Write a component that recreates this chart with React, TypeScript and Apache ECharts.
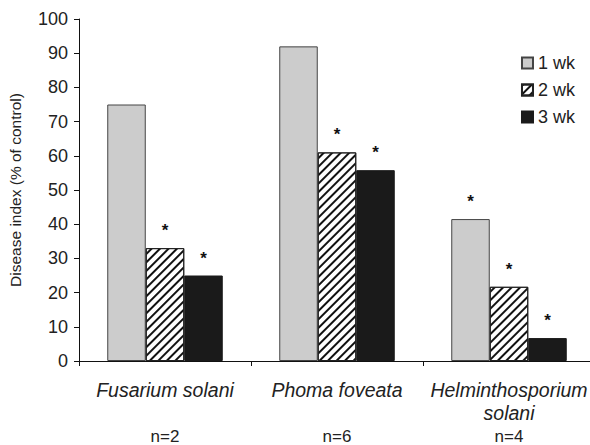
import React, { useEffect, useRef } from "react";
import * as echarts from "echarts";

const categories = ["Fusarium solani", "Phoma foveata", "Helminthosporium solani"];
const sampleSizes = ["n=2", "n=6", "n=4"];
const seriesNames = ["1 wk", "2 wk", "3 wk"];
const week1 = [75, 92, 41.5];
const week2 = [33, 61, 21.7];
const week3 = [25, 55.8, 6.7];
const sig1 = [false, false, true];
const sig2 = [true, true, true];
const sig3 = [true, true, true];
const yTicks = [0, 10, 20, 30, 40, 50, 60, 70, 80, 90, 100];

const FONT = "Liberation Sans, Arial, sans-serif";

function mkData(vals: number[], sig: boolean[]) {
  return vals.map((v, i) => ({
    value: v,
    label: {
      show: sig[i],
      position: "top",
      formatter: "*",
      distance: 9,
      fontSize: 17,
      fontWeight: "bold",
      color: "#111",
      fontFamily: FONT,
    },
  }));
}

export default function App() {
  const ref = useRef<HTMLDivElement>(null);
  useEffect(() => {
    if (!ref.current) return;
    const chart = echarts.init(ref.current, null, { renderer: "svg" });
    const catLabels = categories.map((c, i) => {
      const parts = c === "Helminthosporium solani" ? ["Helminthosporium", "solani"] : [c];
      const lines = parts.map((p) => `{i|${p}}`);
      while (lines.length < 2) lines.push("{i| }");
      return lines.join("\n") + `\n{n|${sampleSizes[i]}}`;
    });
    chart.setOption({
      animation: false,
      textStyle: { fontFamily: FONT },
      grid: { left: 79, right: -5, top: 19, bottom: 84, containLabel: false, outerBoundsMode: "none" },
      legend: {
        orient: "vertical",
        right: 10,
        top: 49,
        itemWidth: 11,
        itemHeight: 11,
        itemGap: 9,
        icon: "rect",
        textStyle: { fontSize: 18, color: "#222", fontFamily: FONT },
        data: seriesNames,
      },
      xAxis: {
        type: "category",
        data: catLabels,
        axisLine: { lineStyle: { color: "#111", width: 1 } },
        axisTick: { show: true, length: 5, lineStyle: { color: "#111" } },
        axisLabel: {
          margin: 17,
          interval: 0,
          color: "#222",
          rich: {
            i: { fontStyle: "italic", fontSize: 19.5, lineHeight: 23.5, fontFamily: FONT, color: "#222" },
            n: { fontSize: 17, lineHeight: 23.5, fontFamily: FONT, color: "#222" },
          },
        },
      },
      yAxis: {
        type: "value",
        min: 0,
        max: 100,
        interval: 10,
        name: "Disease index (% of control)",
        nameLocation: "middle",
        nameGap: 56,
        nameTextStyle: { fontSize: 15.5, color: "#222", fontFamily: FONT },
        axisLine: { show: true, lineStyle: { color: "#111", width: 1 } },
        axisTick: { show: true, length: 5, lineStyle: { color: "#111" } },
        splitLine: { show: false },
        axisLabel: {
          margin: 11,
          fontSize: 18,
          color: "#222",
          fontFamily: FONT,
          formatter: (v: number) => (yTicks.includes(v) ? String(v) : ""),
        },
      },
      series: [
        {
          name: seriesNames[0],
          type: "bar",
          data: mkData(week1, sig1),
          barWidth: 38.5,
          barGap: "0%",
          itemStyle: { color: "#cccccc", borderColor: "#444", borderWidth: 1 },
        },
        {
          name: seriesNames[1],
          type: "bar",
          data: mkData(week2, sig2),
          barWidth: 38.5,
          barGap: "0%",
          itemStyle: {
            color: "#ffffff",
            borderColor: "#222",
            borderWidth: 1,
            decal: {
              symbol: "rect",
              color: "#111",
              dashArrayX: [1, 0],
              dashArrayY: [1.8, 3.5],
              rotation: -Math.PI / 4,
              symbolSize: 1,
            },
          },
        },
        {
          name: seriesNames[2],
          type: "bar",
          data: mkData(week3, sig3),
          barWidth: 38.5,
          barGap: "0%",
          itemStyle: { color: "#1a1a1a", borderColor: "#1a1a1a", borderWidth: 1 },
        },
      ],
    });
    return () => chart.dispose();
  }, []);
  return (
    <div
      ref={ref}
      style={{ position: "fixed", left: 0, top: 0, width: 590, height: 445, background: "#fff" }}
    />
  );
}
